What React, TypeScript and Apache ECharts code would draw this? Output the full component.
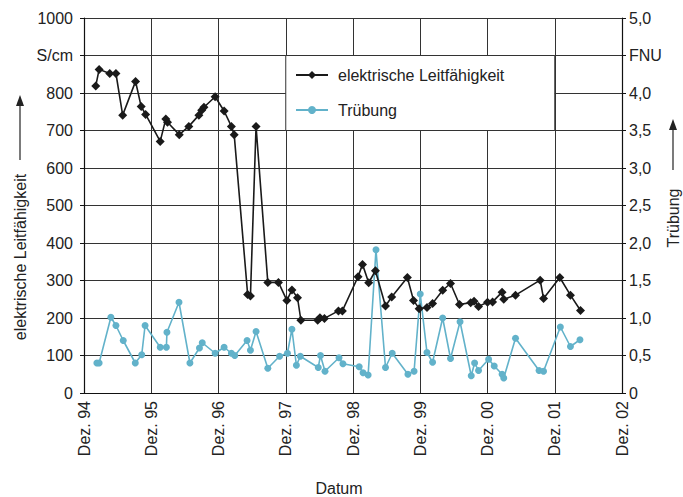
import React, { useEffect, useRef } from "react";
import * as echarts from "echarts";

// months since Dez. 94
const leitMonths = [2.1, 2.7, 4.6, 5.7, 6.9, 9.2, 10.2, 11.0, 13.6, 14.6, 14.9, 17.0, 18.7, 20.5, 21.0, 21.4, 23.4, 25.0, 26.3, 26.8, 29.2, 29.7, 30.7, 32.8, 34.7, 36.2, 37.1, 38.1, 38.7, 41.7, 42.1, 42.9, 45.4, 46.1, 48.9, 49.7, 50.8, 52.0, 53.8, 54.9, 57.7, 58.8, 59.8, 61.2, 62.2, 64.0, 65.4, 67.0, 69.0, 69.6, 70.4, 72.0, 72.9, 74.6, 74.9, 77.0, 81.4, 82.0, 84.9, 86.8, 88.6];
const leitValues = [819, 863, 852, 852, 741, 831, 764, 743, 671, 731, 722, 689, 711, 741, 754, 762, 790, 752, 711, 689, 263, 259, 711, 295, 295, 247, 275, 254, 194, 194, 201, 199, 219, 219, 310, 343, 294, 326, 232, 256, 308, 247, 225, 228, 239, 274, 292, 236, 241, 245, 231, 242, 243, 269, 250, 261, 301, 252, 308, 261, 220];

const truebMonths = [2.3, 2.7, 4.8, 5.7, 7.0, 9.15, 10.3, 10.9, 13.6, 14.7, 14.8, 16.95, 18.9, 20.6, 21.1, 23.4, 25.0, 26.3, 26.9, 29.1, 29.7, 30.7, 32.8, 34.9, 36.3, 37.1, 37.9, 38.6, 41.8, 42.2, 43.0, 45.5, 46.2, 49.1, 49.8, 50.7, 52.1, 53.8, 55.0, 57.8, 58.9, 60.0, 61.2, 62.2, 64.0, 65.4, 67.1, 69.1, 69.7, 70.4, 72.2, 73.2, 74.6, 74.9, 77.0, 81.2, 82.0, 85.0, 86.8, 88.5];
const truebValues = [0.40, 0.40, 1.01, 0.90, 0.70, 0.40, 0.51, 0.90, 0.61, 0.61, 0.81, 1.21, 0.40, 0.60, 0.67, 0.53, 0.61, 0.53, 0.50, 0.70, 0.57, 0.82, 0.33, 0.49, 0.53, 0.85, 0.37, 0.49, 0.34, 0.50, 0.29, 0.47, 0.39, 0.35, 0.27, 0.24, 1.91, 0.34, 0.53, 0.25, 0.29, 1.32, 0.54, 0.41, 1.00, 0.46, 0.95, 0.23, 0.40, 0.30, 0.45, 0.36, 0.25, 0.20, 0.73, 0.30, 0.29, 0.88, 0.62, 0.71];

const xTickLabels = ["Dez. 94", "Dez. 95", "Dez. 96", "Dez. 97", "Dez. 98", "Dez. 99", "Dez. 00", "Dez. 01", "Dez. 02"];
const leftTickLabels = ["0", "100", "200", "300", "400", "500", "600", "700", "800", "S/cm", "1000"];
const rightTickLabels = ["0", "0,5", "1,0", "1,5", "2,0", "2,5", "3,0", "3,5", "4,0", "FNU", "5,0"];

const FONT = "'Liberation Sans', Arial, Helvetica, sans-serif";
const TXT = "#222";
const GRID = "#333";
const BLUE = "#62b2ca";

export default function App() {
  const ref = useRef<HTMLDivElement>(null);
  useEffect(() => {
    if (!ref.current) return;
    const chart = echarts.init(ref.current, undefined, { renderer: "svg" });
    const option: any = {
      animation: false,
      backgroundColor: "#fff",
      textStyle: { fontFamily: FONT },
      grid: { left: 84, right: 61, top: 18, bottom: 104, containLabel: false },
      xAxis: {
        type: "value",
        min: 0,
        max: 96,
        interval: 12,
        axisLine: { show: true, onZero: false, lineStyle: { color: "#111", width: 1.2 } },
        axisTick: { show: false },
        splitLine: { show: true, lineStyle: { color: GRID, width: 1 } },
        axisLabel: {
          rotate: 90,
          margin: 8,
          fontSize: 16,
          color: TXT,
          fontFamily: FONT,
          formatter: (v: number) => xTickLabels[Math.round(v / 12)] ?? "",
        },
      },
      yAxis: [
        {
          type: "value",
          min: 0,
          max: 1000,
          interval: 100,
          axisLine: { show: true, lineStyle: { color: "#111", width: 1.2 } },
          axisTick: { show: true, length: 4, lineStyle: { color: "#111" } },
          splitLine: { show: true, lineStyle: { color: GRID, width: 1 } },
          axisLabel: {
            margin: 11,
            fontSize: 16,
            color: TXT,
            fontFamily: FONT,
            formatter: (v: number) => leftTickLabels[Math.round(v / 100)] ?? "",
          },
        },
        {
          type: "value",
          min: 0,
          max: 5,
          interval: 0.5,
          position: "right",
          axisLine: { show: true, lineStyle: { color: "#111", width: 1.2 } },
          axisTick: { show: true, length: 4, lineStyle: { color: "#111" } },
          splitLine: { show: false },
          axisLabel: {
            margin: 7,
            fontSize: 16,
            color: TXT,
            fontFamily: FONT,
            formatter: (v: number) => rightTickLabels[Math.round(v * 2)] ?? "",
          },
        },
      ],
      legend: {
        orient: "vertical",
        left: 290,
        top: 62,
        itemWidth: 32,
        itemHeight: 10,
        itemGap: 19,
        z: 10,
        textStyle: { fontSize: 16, color: TXT, fontFamily: FONT, padding: [0, 0, 0, 5] },
        data: ["elektrische Leitfähigkeit", "Trübung"],
      },
      series: [
        {
          name: "elektrische Leitfähigkeit",
          type: "line",
          yAxisIndex: 0,
          data: leitMonths.map((m, i) => [m, leitValues[i]]),
          symbol: "diamond",
          symbolSize: 9,
          itemStyle: { color: "#1a1a1a" },
          lineStyle: { color: "#1a1a1a", width: 1.6 },
          z: 4,
        },
        {
          name: "Trübung",
          type: "line",
          yAxisIndex: 1,
          data: truebMonths.map((m, i) => [m, truebValues[i]]),
          symbol: "circle",
          symbolSize: 7,
          itemStyle: { color: BLUE },
          lineStyle: { color: BLUE, width: 1.6 },
          z: 3,
        },
      ],
      graphic: [
        {
          type: "text",
          x: 20,
          y: 257,
          rotation: Math.PI / 2,
          style: { text: "elektrische Leitfähigkeit", fontSize: 16, fill: TXT, fontFamily: FONT, textAlign: "center", textVerticalAlign: "middle" },
        },
        { type: "line", shape: { x1: 20, y1: 160, x2: 20, y2: 104 }, style: { stroke: "#222", lineWidth: 1.2 } },
        { type: "polygon", shape: { points: [[20, 95], [16, 106], [24, 106]] }, style: { fill: "#222" } },
        {
          type: "text",
          x: 673,
          y: 218,
          rotation: Math.PI / 2,
          style: { text: "Trübung", fontSize: 16, fill: TXT, fontFamily: FONT, textAlign: "center", textVerticalAlign: "middle" },
        },
        { type: "line", shape: { x1: 673, y1: 170, x2: 673, y2: 128 }, style: { stroke: "#222", lineWidth: 1.2 } },
        { type: "polygon", shape: { points: [[673, 119], [669, 130], [677, 130]] }, style: { fill: "#222" } },
        {
          type: "text",
          x: 339,
          y: 488,
          style: { text: "Datum", fontSize: 16, fill: TXT, fontFamily: FONT, textAlign: "center", textVerticalAlign: "middle" },
        },
      ],
    };
    chart.setOption(option);
    // legend box: white area bounded by the Dez. 97 / Dez. 01 and 700 / 900 gridlines
    const p1 = chart.convertToPixel({ xAxisIndex: 0, yAxisIndex: 0 }, [36, 900]) as number[];
    const p2 = chart.convertToPixel({ xAxisIndex: 0, yAxisIndex: 0 }, [84, 700]) as number[];
    chart.setOption({
      graphic: [
        ...option.graphic,
        {
          type: "rect",
          z: 2,
          shape: { x: p1[0], y: p1[1], width: p2[0] - p1[0], height: p2[1] - p1[1] },
          style: { fill: "#fff", stroke: GRID, lineWidth: 1 },
        },
      ],
    });
    return () => chart.dispose();
  }, []);
  return (
    <div
      ref={ref}
      style={{ position: "absolute", left: 0, top: 0, width: 683, height: 497 }}
    />
  );
}
